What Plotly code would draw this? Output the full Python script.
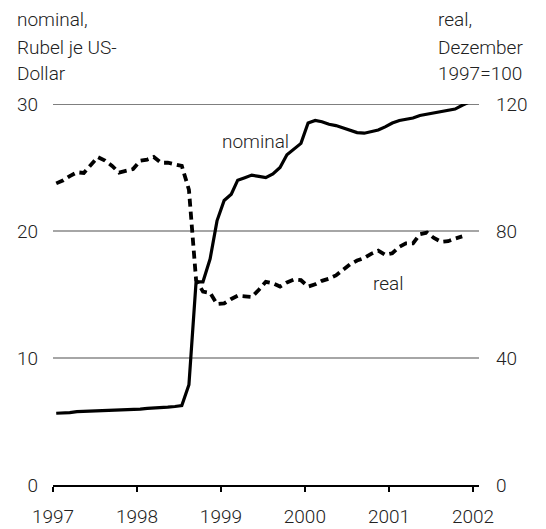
import plotly.graph_objects as go

# ---- data (monthly, Jan 1997 - Dec 2001) ----
years = [1997, 1998, 1999, 2000, 2001]
months = [f"{y}-{m:02d}-15" for y in years for m in range(1, 13)]

nominal = [
    5.65, 5.65, 5.70, 5.78, 5.80, 5.80, 5.82, 5.83, 5.85, 5.88, 5.90, 5.93,   # 1997
    5.98, 6.03, 6.05, 6.08, 6.13, 6.18, 6.25, 7.90, 16.0, 16.0, 17.8, 20.8,   # 1998
    22.4, 22.9, 24.0, 24.2, 24.4, 24.3, 24.2, 24.5, 25.0, 26.0, 26.5, 26.9,   # 1999
    28.5, 28.7, 28.6, 28.4, 28.3, 28.1, 27.9, 27.75, 27.7, 27.8, 27.95, 28.2, # 2000
    28.5, 28.7, 28.8, 28.9, 29.1, 29.2, 29.3, 29.4, 29.45, 29.6, 29.9, 30.15, # 2001
]

real = [
    95.0, 96.0, 97.3, 98.5, 98.3, 101.0, 103.3, 102.2, 100.5, 98.4, 99.0, 99.5,  # 1997
    102.1, 102.5, 103.3, 101.5, 101.5, 101.0, 100.5, 93.0, 64.6, 60.9, 60.5, 57.0,  # 1998
    57.2, 58.6, 59.6, 59.4, 59.2, 61.5, 64.0, 63.5, 62.5, 63.8, 64.7, 64.5,  # 1999
    62.5, 63.2, 64.3, 65.0, 66.0, 67.8, 69.5, 70.7, 71.5, 72.8, 73.8, 72.5,  # 2000
    73.0, 75.0, 76.1, 76.1, 79.0, 79.5, 77.8, 76.6, 76.8, 77.6, 78.3,        # 2001 (to Nov)
]

left_ticks = [0, 10, 20, 30]
right_ticks = [0, 40, 80, 120]
year_ticks = ["1997-01-01", "1998-01-01", "1999-01-01", "2000-01-01", "2001-01-01", "2002-01-01"]
year_labels = ["1997", "1998", "1999", "2000", "2001", "2002"]

# ---- layout geometry (screen pixels; page body adds an 8px offset) ----
OFF = 8
W, H = 546 - OFF, 529 - OFF
X0, X1, Y0, Y1 = 53, 479, 104, 485          # plot area on screen
L, R, T, B = X0 - OFF, W - (X1 - OFF), Y0 - OFF, H - (Y1 - OFF)
PW, PH = X1 - X0, Y1 - Y0

def px(x):
    return (x - X0) / PW

def py(y):
    return (Y1 - y) / PH

FONT = "Roboto, Liberation Sans, Arial, sans-serif"
TXT = "#222222"
FS = 19
FW = 300

def fnt():
    return dict(size=FS, color=TXT, family=FONT, weight=FW)

fig = go.Figure()
fig.add_trace(go.Scatter(
    x=months[:len(real)], y=real, yaxis="y2", mode="lines",
    line=dict(color="black", width=3.8, dash="8px,5px"), name="real",
))
fig.add_trace(go.Scatter(
    x=months, y=nominal, mode="lines",
    line=dict(color="black", width=3.2), name="nominal",
))

shapes = []
for v, col, w in [(10, "#888888", 1.5), (20, "#888888", 1.5), (30, "black", 1.2)]:
    shapes.append(dict(type="line", xref="paper", x0=0, x1=1, yref="y", y0=v, y1=v,
                       line=dict(color=col, width=w), layer="below"))

ann = []
for i, t in enumerate(["nominal,", "Rubel je US-", "Dollar"]):
    ann.append(dict(text=t, xref="paper", yref="paper", x=px(15), y=py(20 + 27 * i),
                    xanchor="left", yanchor="middle", showarrow=False, font=fnt()))
for i, t in enumerate(["real,", "Dezember", "1997=100"]):
    ann.append(dict(text=t, xref="paper", yref="paper", x=px(436), y=py(20 + 27 * i),
                    xanchor="left", yanchor="middle", showarrow=False, font=fnt()))
ann.append(dict(text="nominal", xref="paper", yref="paper", x=px(255), y=py(141),
                xanchor="center", yanchor="middle", showarrow=False, font=fnt()))
ann.append(dict(text="real", xref="paper", yref="paper", x=px(388), y=py(283),
                xanchor="center", yanchor="middle", showarrow=False, font=fnt()))

fig.update_layout(
    width=W, height=H,
    margin=dict(l=L, r=R, t=T, b=B, pad=0, autoexpand=False),
    paper_bgcolor="white", plot_bgcolor="white",
    showlegend=False,
    font=fnt(),
    shapes=shapes, annotations=ann,
    xaxis=dict(
        type="date", range=["1997-01-01", "2002-01-27"],
        tickvals=year_ticks, ticktext=year_labels, automargin=False,
        ticks="outside", ticklen=5, tickwidth=1.5, tickcolor="black",
        showline=True, linecolor="black", linewidth=1.5,
        showgrid=False, zeroline=False, ticklabelstandoff=8,
        tickfont=fnt(),
    ),
    yaxis=dict(
        range=[0, 30], tickvals=left_ticks, showgrid=False, zeroline=False,
        showline=False, ticks="", ticklabelstandoff=14, automargin=False,
        tickfont=fnt(),
    ),
    yaxis2=dict(
        range=[0, 120], tickvals=right_ticks, overlaying="y", side="right",
        showgrid=False, zeroline=False, showline=False, ticks="", automargin=False,
        ticklabelstandoff=16, tickfont=fnt(),
    ),
)

fig.write_html("out.html")
